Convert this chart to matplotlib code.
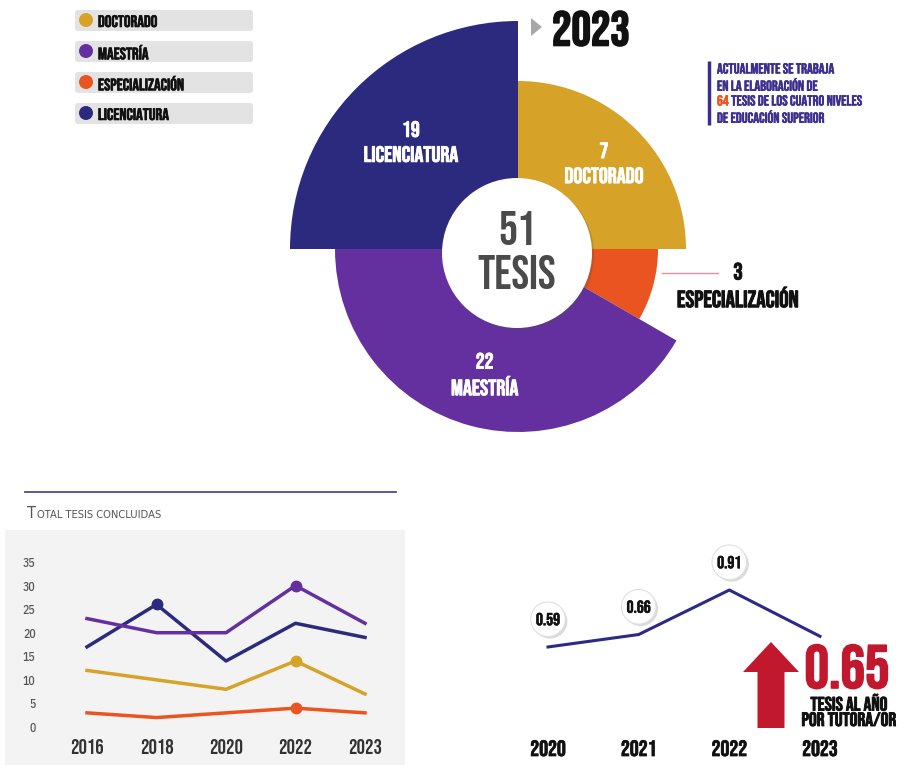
import numpy as np
import matplotlib
matplotlib.use("Agg")
import matplotlib.pyplot as plt
from matplotlib.patches import Wedge, Circle, FancyBboxPatch, FancyArrow, Polygon, Rectangle
import matplotlib.patheffects as pe

plt.rcParams['font.family'] = ['Bebas Neue', 'Oswald', 'DejaVu Sans']

# tesis concluidas en 2023 por nivel
niveles = ["DOCTORADO", "ESPECIALIZACIÓN", "MAESTRÍA", "LICENCIATURA"]
tesis_2023 = [7, 3, 22, 19]
colores = ["#d6a228", "#ea5420", "#64309f", "#2c2a7e"]
orden_leyenda = [0, 2, 1, 3]
en_elaboracion = 64

# serie historica de tesis concluidas
anios = ["2016", "2018", "2020", "2022", "2023"]
serie_doc = [12, 10, 8, 14, 7]
serie_esp = [3, 2, 3, 4, 3]
serie_mae = [23, 20, 20, 30, 22]
serie_lic = [17, 26, 14, 22, 19]

# tesis al año por tutor(a)
anios_tutor = ["2020", "2021", "2022", "2023"]
tasa_tutor = [0.59, 0.66, 0.91, 0.65]


def grueso(color, lw=0.7):
    # engrosa el trazo de la letra
    return [pe.withStroke(linewidth=lw, foreground=color)]


W, H = 900, 765
fig = plt.figure(figsize=(W / 100, H / 100), dpi=100)
fig.patch.set_facecolor("white")

# capa de fondo en pixeles
bg = fig.add_axes([0, 0, 1, 1])
bg.set_xlim(0, W)
bg.set_ylim(H, 0)
bg.axis("off")

# leyenda
for k, i in enumerate(orden_leyenda):
    yc = 20 + k * 31
    bg.add_patch(FancyBboxPatch((75, yc - 10), 178, 21, boxstyle="round,pad=0,rounding_size=3",
                                fc="#e3e3e3", ec="none"))
    bg.add_patch(Circle((86, yc), 7, fc=colores[i], ec="none"))
    bg.text(98, yc + 1, niveles[i], ha="left", va="center", fontsize=12, color="#111111",
            path_effects=grueso("#111111", 0.45))

# titulo del año
bg.add_patch(Polygon([(531, 18), (531, 36), (542, 27)], closed=True, fc="#a8a8a8", ec="none"))
bg.text(552, 28, "2023", ha="left", va="center", fontsize=35, color="#111111",
        path_effects=grueso("#111111", 1.2))

# nota en elaboracion
azul_txt = "#3b2e8f"
fs_nota = 10.5
bg.plot([709, 709], [61, 125], color=azul_txt, lw=2.5, solid_capstyle="butt")
for yy, txt in [(68, "ACTUALMENTE SE TRABAJA"), (84, "EN LA ELABORACIÓN DE"), (116, "DE EDUCACIÓN SUPERIOR")]:
    bg.text(717, yy, txt, ha="left", va="center", fontsize=fs_nota, color=azul_txt,
            path_effects=grueso(azul_txt, 0.35))
t64 = bg.text(717, 100, str(en_elaboracion), ha="left", va="center", fontsize=fs_nota, color="#ea5420",
              path_effects=grueso("#ea5420", 0.35))
bg.annotate(" TESIS DE LOS CUATRO NIVELES", xy=(1, 0), xycoords=t64, ha="left", va="bottom",
            fontsize=fs_nota, color=azul_txt, path_effects=grueso(azul_txt, 0.35))

# etiqueta externa de especializacion
bg.plot([662, 718], [273, 273], color="#f08c9c", lw=1)
bg.text(738, 271, str(tesis_2023[1]), ha="center", va="center", fontsize=17, color="#111111",
        path_effects=grueso("#111111"))
bg.text(738, 297, niveles[1], ha="center", va="center", fontsize=17, color="#111111",
        path_effects=grueso("#111111"))

# panel de la grafica de lineas
bg.add_patch(Rectangle((5, 530), 400, 240, fc="#f3f3f3", ec="none"))
bg.plot([25, 396], [492, 492], color="#4b4a98", lw=1.3)
bg.text(27, 518, "T", ha="left", va="baseline", fontsize=10.5, family="DejaVu Sans", color="#555555")
bg.text(37, 518, "OTAL TESIS CONCLUIDAS", ha="left", va="baseline", fontsize=7.2, family="DejaVu Sans",
        color="#555555")

# flecha y valor 2023 por tutor
rojo = "#c1182d"
bg.add_patch(FancyArrow(771, 728, 0, -86, width=27, head_width=56, head_length=30,
                        length_includes_head=True, fc=rojo, ec="none"))
bg.text(847, 667, f"{tasa_tutor[-1]:.2f}", ha="center", va="center", fontsize=44, color=rojo,
        path_effects=grueso(rojo, 1.2))
bg.text(849, 702, "TESIS AL AÑO", ha="center", va="center", fontsize=14, color="#111111",
        path_effects=grueso("#111111", 0.6))
bg.text(849, 719, "POR TUTORA/OR", ha="center", va="center", fontsize=14, color="#111111",
        path_effects=grueso("#111111", 0.6))

# grafica circular
cx, cy = 518, 249
R = 260
pie = fig.add_axes([(cx - R) / W, (H - cy - R) / H, 2 * R / W, 2 * R / H])
pie.set_xlim(-R, R)
pie.set_ylim(-R, R)
pie.axis("off")

spans = [90, 30, 150, 90]      # apertura de cada sector
radios = [168, 140, 183, 228]  # radio exterior de cada sector
inicio = 90
for k in range(len(niveles)):
    fin = inicio - spans[k]
    pie.add_patch(Wedge((0, 0), radios[k], fin, inicio, fc=colores[k], ec="none", zorder=2 + (k == 2)))
    if k != 1:
        ang = np.deg2rad((inicio + fin) / 2)
        rl = 75 + 0.5 * (radios[k] - 75)
        pie.text(rl * np.cos(ang), rl * np.sin(ang) + 13, str(tesis_2023[k]), ha="center", va="center",
                 fontsize=16, color="white", zorder=5, path_effects=grueso("white", 0.6))
        pie.text(rl * np.cos(ang), rl * np.sin(ang) - 12, niveles[k], ha="center", va="center",
                 fontsize=16, color="white", zorder=5, path_effects=grueso("white", 0.6))
    inicio = fin

centro = Circle((-1, -4), 75, fc="white", ec="none", zorder=6)
centro.set_path_effects([pe.SimplePatchShadow(offset=(1.5, -1.5), alpha=0.25), pe.Normal()])
pie.add_patch(centro)
pie.text(-1, 21, str(sum(tesis_2023)), ha="center", va="center", fontsize=34, color="#4a4a4a", zorder=7)
pie.text(-1, -23, "TESIS", ha="center", va="center", fontsize=34, color="#4a4a4a", zorder=7)

# lineas de tesis concluidas
def px_axes(left, right, top, bottom):
    return fig.add_axes([left / W, (H - bottom) / H, (right - left) / W, (bottom - top) / H])

ax = px_axes(52.25, 399.75, 557.3, 731.7)
ax.set_facecolor("none")
x = np.arange(len(anios))
ax.plot(x, serie_lic, color=colores[3], lw=2.5)
ax.plot(x, serie_mae, color=colores[2], lw=2.5)
ax.plot(x, serie_doc, color=colores[0], lw=2.5)
ax.plot(x, serie_esp, color=colores[1], lw=2.5)
ax.plot(x[1], serie_lic[1], "o", color=colores[3], ms=7.5)
ax.plot(x[3], serie_mae[3], "o", color=colores[2], ms=7.5)
ax.plot(x[3], serie_doc[3], "o", color=colores[0], ms=7.5)
ax.plot(x[3], serie_esp[3], "o", color=colores[1], ms=7.5)
ax.set_xlim(-0.5, len(anios) - 0.5)
ax.set_ylim(-1, 36)
ax.set_yticks(range(0, 36, 5))
ax.set_yticklabels([str(v) for v in range(0, 36, 5)], family="IBM Plex Sans Condensed", weight="medium")
ax.set_xticks(x)
ax.set_xticklabels(anios, fontsize=15, color="#333333")
ax.tick_params(axis="y", length=0, pad=12, labelsize=8.5, labelcolor="#555555")
ax.tick_params(axis="x", length=0, pad=5)
for s in ax.spines.values():
    s.set_visible(False)

# tesis al año por tutor
ax2 = px_axes(502.7, 865.3, 574.0, 716.4)
ax2.set_facecolor("none")
x2 = np.arange(len(anios_tutor))
ax2.plot(x2, tasa_tutor, color="#2c2a86", lw=2.2)
for i in range(len(tasa_tutor) - 1):
    t = ax2.annotate(f"{tasa_tutor[i]:.2f}", xy=(x2[i], tasa_tutor[i]), xytext=(0, 20),
                     textcoords="offset points", ha="center", va="center", fontsize=12.5,
                     color="#111111", path_effects=grueso("#111111", 0.4),
                     bbox=dict(boxstyle="circle,pad=0.3", fc="white", ec="#e0e0e0", lw=0.8))
    t.get_bbox_patch().set_path_effects([pe.SimplePatchShadow(offset=(1.5, -1.5), alpha=0.2), pe.Normal()])
ax2.set_xlim(-0.5, len(anios_tutor) - 0.5)
ax2.set_ylim(0.2, 1.0)
ax2.set_yticks([])
ax2.set_xticks(x2)
ax2.set_xticklabels(anios_tutor, fontsize=16, color="#111111")
for lbl in ax2.get_xticklabels():
    lbl.set_path_effects(grueso("#111111", 0.5))
ax2.tick_params(axis="x", length=0, pad=17)
for s in ax2.spines.values():
    s.set_visible(False)

fig.savefig("out.png", dpi=100, facecolor="white")
